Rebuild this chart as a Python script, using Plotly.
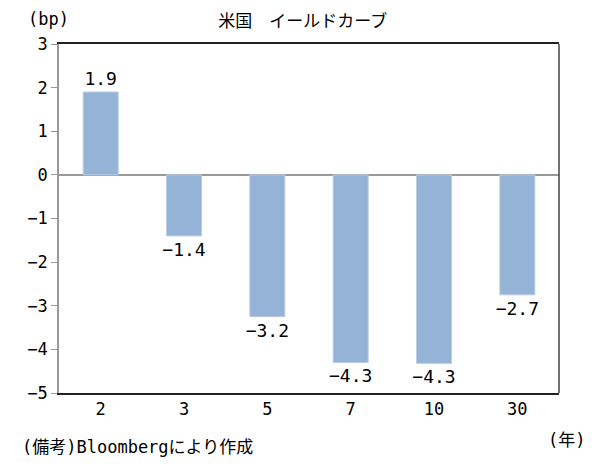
import plotly.graph_objects as go

categories = ["2", "3", "5", "7", "10", "30"]
values = [1.9, -1.4, -3.25, -4.3, -4.32, -2.75]
labels = ["1.9", "−1.4", "−3.2", "−4.3", "−4.3", "−2.7"]
y_ticks = [3, 2, 1, 0, -1, -2, -3, -4, -5]
y_tick_text = ["3", "2", "1", "0", "−1", "−2", "−3", "−4", "−5"]

FONT = "DejaVu Sans Mono, Noto Sans CJK JP"
JP = "Noto Sans CJK JP"

fig = go.Figure(
    go.Bar(
        x=categories,
        y=values,
        text=labels,
        textposition="outside",
        constraintext="none",
        textfont=dict(family=FONT, size=18, color="#000000"),
        marker=dict(color="#95B3D7", line=dict(color="#B9CDE5", width=1)),
        width=0.42,
        cliponaxis=False,
    )
)

fig.update_layout(
    width=604,
    height=474,
    margin=dict(l=51, r=53, t=36, b=89),
    paper_bgcolor="white",
    plot_bgcolor="white",
    showlegend=False,
    font=dict(family=FONT, size=17, color="#000000"),
    title=dict(text="米国　イールドカーブ", x=0.488, xanchor="center", y=0.972, yanchor="middle",
               font=dict(family=JP, size=17, color="#000000")),
    xaxis=dict(
        type="category",
        showline=True, linecolor="#222222", linewidth=1.5, mirror=True,
        ticks="", showgrid=False,
        tickfont=dict(family=FONT, size=17),
    ),
    yaxis=dict(
        range=[-5, 3],
        tickvals=y_ticks, ticktext=y_tick_text,
        showline=True, linecolor="#999999", linewidth=1.5,
        ticks="outside", ticklen=6, tickcolor="#999999",
        showgrid=False, zeroline=True, zerolinecolor="#999999", zerolinewidth=1.5,
        tickfont=dict(family=FONT, size=17),
    ),
    shapes=[dict(type="line", xref="paper", yref="paper", x0=1, x1=1, y0=0, y1=1,
                 line=dict(color="#444444", width=1.5))],
    annotations=[
        dict(text="(bp)", xref="paper", yref="paper", x=-0.066, y=1.072, xanchor="left",
             yanchor="middle", showarrow=False, font=dict(family=FONT, size=17)),
        dict(text="(年)", xref="paper", yref="paper", x=1.014, y=-0.1347, xanchor="center",
             yanchor="middle", showarrow=False, font=dict(family=FONT, size=17)),
        dict(text="(備考)Bloombergにより作成", xref="paper", yref="paper", x=-0.078, y=-0.155,
             xanchor="left", yanchor="middle", showarrow=False, font=dict(family=FONT, size=17)),
    ],
)

fig.write_html("out.html")
